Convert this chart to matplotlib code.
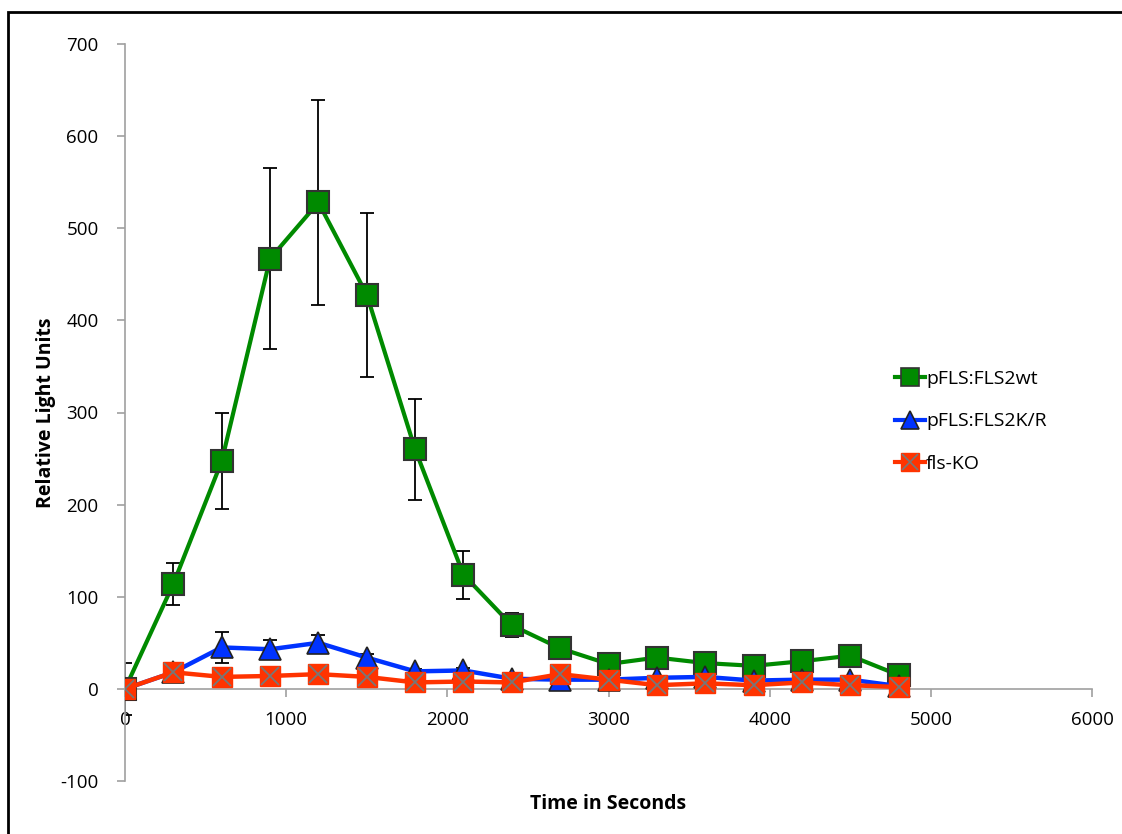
import matplotlib
matplotlib.use("Agg")
import matplotlib.pyplot as plt
from matplotlib.patches import Rectangle
from matplotlib.legend_handler import HandlerTuple
from matplotlib.lines import Line2D

plt.rcParams['font.family'] = ['Open Sans', 'DejaVu Sans']
plt.rcParams['axes.unicode_minus'] = False

time = [0, 300, 600, 900, 1200, 1500, 1800, 2100, 2400, 2700, 3000, 3300, 3600, 3900, 4200, 4500, 4800]
wt = [0, 114, 247, 467, 528, 428, 260, 124, 69, 44, 27, 34, 28, 25, 30, 36, 15]
wt_err = [28, 23, 52, 98, 111, 89, 55, 26, 13, 5, 3, 3, 3, 3, 3, 3, 3]
kr = [0, 18, 45, 43, 50, 34, 19, 20, 11, 10, 10, 12, 13, 9, 10, 10, 3]
kr_err = [0, 5, 17, 10, 8, 4, 3, 3, 3, 3, 2, 2, 2, 2, 2, 2, 2]
ko = [0, 18, 13, 14, 16, 13, 7, 8, 7, 16, 10, 4, 6, 4, 7, 4, 2]
ko_err = [0, 3, 3, 3, 3, 3, 2, 2, 2, 2, 2, 2, 2, 2, 2, 2, 2]

labels = ['pFLS:FLS2wt', 'pFLS:FLS2K/R', 'fls-KO']
green = '#008a00'
blue = '#0033ff'
red = '#ff3300'

fig = plt.figure(figsize=(11.22, 8.34), dpi=100)
ax = fig.add_axes([125/1122, 1-781/834, (1092-125)/1122, (781-44)/834])

fig.patches.append(Rectangle((8/1122, -0.1), 1.2, (834-12)/834 + 0.1, transform=fig.transFigure,
                             fill=False, edgecolor='black', linewidth=2.0, zorder=0))

eb_kw = dict(fmt='none', ecolor='black', elinewidth=1.3, capsize=5, capthick=1.3, zorder=2)
ax.errorbar(time, wt, yerr=wt_err, **eb_kw)
ax.errorbar(time, kr, yerr=kr_err, **eb_kw)
ax.errorbar(time, ko, yerr=ko_err, **eb_kw)

ax.plot(time, wt, color=green, lw=3, marker='s', ms=15.5, mfc=green, mec='#333333', mew=1.5, zorder=3)
ax.plot(time, kr, color=blue, lw=3.2, marker='^', ms=15.5, mfc=blue, mec='#222222', mew=1.2, zorder=4)
ax.plot(time, ko, color=red, lw=3.2, marker='s', ms=15, mfc=red, mec=red, mew=1, zorder=5)
ax.plot(time, ko, ls='none', marker='x', ms=13, mec='#777777', mew=1.3, zorder=6)

ax.set_xlim(0, 6000)
ax.set_ylim(-100, 700)
ax.set_xticks(range(0, 6001, 1000))
ax.set_yticks(range(-100, 701, 100))

for s in ['top', 'right']:
    ax.spines[s].set_visible(False)
ax.spines['bottom'].set_position(('data', 0))
for s in ['left', 'bottom']:
    ax.spines[s].set_color('#a0a0a0')
    ax.spines[s].set_linewidth(1.2)
ax.tick_params(axis='both', colors='#a0a0a0', length=6, width=1.2, labelcolor='black', labelsize=13.5)
ax.tick_params(axis='x', pad=10)
ax.tick_params(axis='y', pad=13)

ax.set_ylabel('Relative Light Units', fontsize=14, fontweight='bold')
ax.set_xlabel('Time in Seconds', fontsize=14, fontweight='bold')
ax.xaxis.set_label_coords(0.5, -0.017)
ax.yaxis.set_label_coords(-0.071, 0.5)

h1 = Line2D([], [], color=green, lw=3, marker='s', ms=13, mfc=green, mec='#333333', mew=1.2)
h2 = Line2D([], [], color=blue, lw=3, marker='^', ms=13, mfc=blue, mec='#222222', mew=1.2)
h3a = Line2D([], [], color=red, lw=3, marker='s', ms=13, mfc=red, mec=red)
h3b = Line2D([], [], ls='none', marker='x', ms=11, mec='#777777', mew=1.2)
ax.legend([h1, h2, (h3a, h3b)], labels, handler_map={tuple: HandlerTuple(ndivide=1, pad=0)},
          loc='upper left', bbox_to_anchor=(895/1122, 1-370/834), bbox_transform=fig.transFigure,
          frameon=False, fontsize=14, handlelength=1.55, handletextpad=0.05, labelspacing=1.25,
          borderaxespad=0, borderpad=0)

fig.savefig('out.png', dpi=100)
